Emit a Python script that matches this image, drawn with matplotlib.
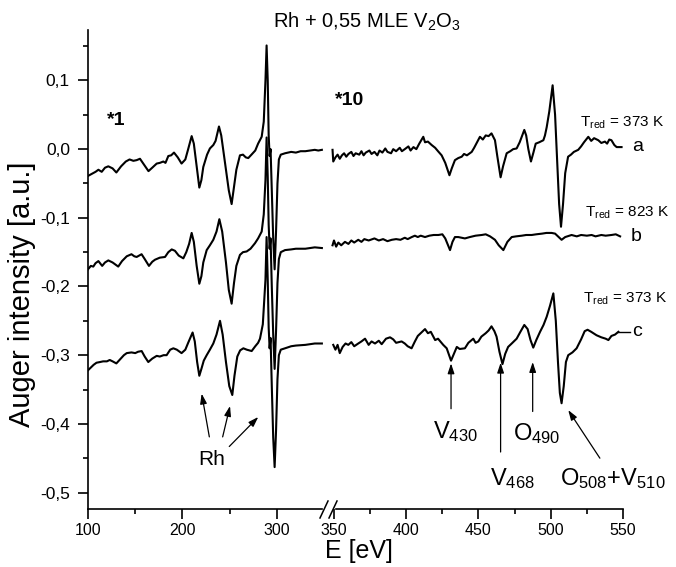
import matplotlib
matplotlib.use("Agg")
import matplotlib.pyplot as plt
from matplotlib.lines import Line2D
from matplotlib.ticker import FixedLocator, FuncFormatter

plt.rcParams['font.family'] = ['Liberation Sans', 'DejaVu Sans']
plt.rcParams['mathtext.fontset'] = 'custom'
plt.rcParams['mathtext.rm'] = 'Liberation Sans'
plt.rcParams['mathtext.it'] = 'Liberation Sans'
plt.rcParams['mathtext.bf'] = 'Liberation Sans:bold'

# ---------------- data: left part (*1), E in eV ----------------
E_left_a = [100, 104, 108, 111, 114.5, 118, 121.5, 126, 130, 135, 140, 144, 148, 151.5, 155, 159, 164, 168,
            172.7, 176, 179.7, 182, 185, 188, 191, 195, 199, 203, 206, 209.7, 212, 215, 217.8, 220, 222, 226,
            229, 232.6, 235, 238.6, 241, 245, 249, 252, 254.5, 257, 260.8, 264, 267, 269.6, 273, 277, 280,
            283.8, 286, 287.8, 289, 290.2, 291.2, 292.2, 293.2, 294.5, 296, 297.5, 299, 300.5, 302, 304,
            308.5, 315, 320, 325, 330, 335, 340, 343.7, 347.5]
I_left_a = [-0.039, -0.036, -0.033, -0.030, -0.033, -0.027, -0.025, -0.028, -0.034, -0.025, -0.018, -0.015,
            -0.017, -0.016, -0.014, -0.022, -0.032, -0.027, -0.021, -0.020, -0.018, -0.020, -0.010, -0.009,
            -0.005, -0.012, -0.021, -0.015, 0.000, 0.019, 0.008, -0.025, -0.056, -0.045, -0.026, -0.008,
            0.001, 0.006, 0.012, 0.033, 0.020, -0.020, -0.060, -0.080, -0.055, -0.030, -0.009, -0.008,
            -0.012, -0.013, -0.008, -0.002, 0.008, 0.018, 0.040, 0.100, 0.151, 0.100, 0.020, -0.010, 0.000,
            -0.060, -0.130, -0.175, -0.120, -0.050, -0.015, -0.008, -0.006, -0.004, -0.005, -0.003, -0.003,
            -0.002, -0.001, -0.002, -0.001]

E_left_b = [100, 103, 105.6, 108, 111, 115, 118, 121.5, 126, 132, 136, 141, 146, 149, 151.5, 156.7, 160,
            164.5, 168, 170.9, 176, 181.5, 185, 188.6, 192, 196, 200.9, 204, 207, 209.7, 212, 215, 217.8,
            220, 222, 225.6, 229, 232.6, 236, 239, 242, 246, 249, 252, 254.5, 257, 260.8, 264, 267.9, 272,
            276.7, 280, 283.8, 286, 287.8, 289, 290.2, 291.2, 292.2, 293.2, 294.5, 296, 297.5, 299, 300.5,
            302, 304, 308.5, 315, 320, 330, 340, 347.5]
I_left_b = [-0.175, -0.170, -0.171, -0.166, -0.163, -0.170, -0.165, -0.162, -0.165, -0.171, -0.163, -0.156,
            -0.153, -0.156, -0.157, -0.153, -0.160, -0.170, -0.164, -0.161, -0.158, -0.157, -0.150, -0.146,
            -0.148, -0.155, -0.159, -0.150, -0.138, -0.122, -0.135, -0.170, -0.196, -0.185, -0.165, -0.147,
            -0.140, -0.132, -0.120, -0.102, -0.120, -0.165, -0.205, -0.225, -0.195, -0.170, -0.154, -0.150,
            -0.149, -0.145, -0.137, -0.130, -0.120, -0.095, -0.045, 0.017, -0.040, -0.110, -0.145, -0.130,
            -0.200, -0.270, -0.320, -0.265, -0.195, -0.160, -0.150, -0.147, -0.146, -0.145, -0.145, -0.143,
            -0.144]

E_left_c = [100, 103, 106, 109, 112.7, 116, 120, 123, 126, 130, 134, 138, 141, 146, 150, 153, 156.8, 160,
            163.8, 168, 172.7, 176, 180, 183.2, 187, 190.3, 194, 199, 203, 206, 210.7, 213, 215.5, 217.8,
            220, 222.5, 225.6, 229, 232.6, 236, 239.7, 242.5, 246, 249.5, 252.7, 255, 258, 261, 264.4, 268,
            273.2, 277, 280, 282, 285, 287.8, 289, 290.2, 291.2, 292.2, 293.2, 294.5, 296, 297.5, 299, 300.5,
            302, 304, 308.5, 315, 320, 330, 340, 347.5]
I_left_c = [-0.322, -0.318, -0.314, -0.311, -0.310, -0.309, -0.309, -0.307, -0.309, -0.312, -0.306, -0.300,
            -0.297, -0.296, -0.297, -0.295, -0.294, -0.302, -0.310, -0.305, -0.301, -0.302, -0.300, -0.300,
            -0.292, -0.290, -0.292, -0.297, -0.292, -0.282, -0.267, -0.280, -0.310, -0.330, -0.320, -0.308,
            -0.300, -0.292, -0.283, -0.270, -0.250, -0.270, -0.310, -0.345, -0.358, -0.330, -0.302, -0.293,
            -0.290, -0.292, -0.294, -0.287, -0.282, -0.276, -0.255, -0.190, -0.128, -0.190, -0.260, -0.290,
            -0.275, -0.345, -0.420, -0.463, -0.410, -0.335, -0.300, -0.292, -0.290, -0.287, -0.286, -0.285,
            -0.283, -0.283]

# ---------------- data: right part (*10) ----------------
E_right_a = [349, 349.5, 351, 352.5, 354, 355.5, 357, 358.5, 360, 362, 363.5, 365, 367.5, 369, 370.5, 372,
             374.5, 376, 378, 380, 381.5, 383.5, 385.5, 387, 389.5, 391, 393, 395.5, 397, 399, 401.5, 403,
             405, 407, 409, 411.8, 413, 415, 417.6, 420, 422,
             424.5, 427, 429.9, 431.5, 433.7, 436, 438.4, 440, 442, 445.3, 447, 449, 451, 453, 455, 457, 459,
             461.4, 463, 465.3, 467, 469.5, 472, 474, 476.4, 478.5, 481.7, 483, 484.5, 486.3, 488, 489.6, 492,
             494.9, 496, 497.2, 499, 501.3, 503, 504.5, 505.8, 507.1, 508.5, 510, 512, 514, 516, 519, 521,
             523, 526, 528, 530, 532.9, 535, 537.5, 539, 540.5, 542, 544, 545.6, 549]
I_right_a = [-0.001, -0.018, -0.012, -0.008, -0.014, -0.009, -0.006, -0.011, -0.007, -0.004, -0.010, -0.006,
             -0.008, -0.003, -0.009, -0.005, -0.002, -0.007, -0.004, -0.009, -0.002, -0.005, 0.001, -0.004,
             -0.006, 0.000, -0.003, 0.002, -0.003, 0.000, 0.004, -0.002, 0.003, 0.000, 0.008,
             0.018, 0.010, 0.011, 0.006, 0.002,
             -0.003, -0.009, -0.020, -0.038, -0.028, -0.016, -0.013, -0.011, -0.007, -0.009, -0.004, 0.002,
             0.010, 0.018, 0.014, 0.020, 0.019, 0.023, 0.013, -0.010, -0.041, -0.025, -0.006, -0.003, 0.000,
             0.001, 0.010, 0.028, 0.020, 0.000, -0.018, -0.005, 0.008, 0.010, 0.013, 0.020, 0.032, 0.055,
             0.093, 0.050, -0.020, -0.080, -0.113, -0.080, -0.035, -0.011, -0.008, -0.004, -0.001, 0.004,
             0.010, 0.018, 0.012, 0.016, 0.013, 0.009, 0.011, 0.008, 0.014, 0.013, 0.006, 0.003, 0.003]

E_right_b = [349, 350, 351.5, 353, 355, 357.6, 360, 362, 364, 366.8, 369, 371, 374, 378, 381, 384, 387, 390,
             393, 396, 399, 401, 403.8, 406, 408, 410, 413, 416, 419, 422.2, 425, 427, 430.3, 432, 433.7, 436,
             440.6, 444, 448, 452.2, 455, 458, 461.4, 464, 467.2, 470, 473, 476, 480, 483, 486.8, 490, 494,
             497, 500.6, 503, 505, 507.5, 510, 514.4, 518, 521, 525, 528.3, 531, 535, 538, 542, 545, 548]
I_right_b = [-0.140, -0.133, -0.142, -0.136, -0.140, -0.135, -0.138, -0.133, -0.136, -0.132, -0.135, -0.131,
             -0.133, -0.130, -0.133, -0.131, -0.134, -0.132, -0.131, -0.132, -0.129, -0.131, -0.128, -0.126,
             -0.128, -0.126, -0.128, -0.126, -0.125, -0.125, -0.124, -0.130, -0.147, -0.135, -0.128, -0.128,
             -0.130, -0.128, -0.126, -0.125, -0.124, -0.127, -0.132, -0.140, -0.147, -0.135, -0.128, -0.127,
             -0.126, -0.125, -0.125, -0.124, -0.123, -0.122, -0.122, -0.123, -0.127, -0.132, -0.128, -0.125,
             -0.127, -0.125, -0.126, -0.125, -0.127, -0.125, -0.126, -0.125, -0.124, -0.127]

E_right_c = [349.5, 351, 352.5, 354, 356, 358, 359.9, 362, 364, 366.8, 369, 371.5, 374, 376, 378.4, 381, 383,
             386, 388.8, 391, 393, 396.8, 399, 401, 403.7, 406, 408, 411, 413, 415, 417, 420, 422, 425.6, 428,
             431, 433, 435, 437, 440.6, 443, 446.4, 448, 449.9, 452, 455, 457, 459, 461, 462.5, 464.5, 466.6,
             468.5, 470.5, 473, 476.4, 479, 481.7, 484, 486, 487.9, 490, 492.6, 495, 497.2, 499.5, 501.8,
             503.5, 505, 506.3, 507.5, 509, 510.5, 512.1, 515, 517.9, 521, 523.5, 525.5, 528, 531.7, 535, 538,
             539.9, 542, 544.5, 546.8]
I_right_c = [-0.285, -0.292, -0.285, -0.297, -0.288, -0.283, -0.285, -0.281, -0.287, -0.283, -0.280, -0.276,
             -0.285, -0.280, -0.283, -0.279, -0.284, -0.276, -0.274, -0.277, -0.282, -0.280, -0.283, -0.287,
             -0.290, -0.280, -0.272, -0.266, -0.262, -0.268, -0.266, -0.278, -0.276, -0.285, -0.290, -0.308,
             -0.298, -0.288, -0.291, -0.290, -0.282, -0.276, -0.282, -0.280, -0.273, -0.268, -0.264, -0.258,
             -0.265, -0.273, -0.295, -0.313, -0.298, -0.288, -0.283, -0.276, -0.266, -0.256, -0.262, -0.278,
             -0.289, -0.278, -0.266, -0.256, -0.244, -0.228, -0.210, -0.250, -0.310, -0.355, -0.370, -0.345,
             -0.310, -0.300, -0.296, -0.290, -0.277, -0.265, -0.263, -0.266, -0.271, -0.274, -0.276, -0.278,
             -0.272, -0.270, -0.266]

curve_names = ['a', 'b', 'c']
temps = ['373 K', '823 K', '373 K']
yticks = [-0.5, -0.4, -0.3, -0.2, -0.1, 0.0, 0.1]
left_xticks = [100, 200, 300]
right_xticks = [350, 400, 450, 500, 550]

# ---------------- figure ----------------
W, H = 676, 567
fig = plt.figure(figsize=(W / 100, H / 100), dpi=100)

def fx(px):
    return px / W

def fy(py):
    return 1 - py / H

ax_left_px, ax_mid_l, ax_mid_r, ax_right_px = 88, 326.6, 328.2, 623
ax_top, ax_bot = 30, 509
axL = fig.add_axes([fx(ax_left_px), fy(ax_bot), (ax_mid_l - ax_left_px) / W, (ax_bot - ax_top) / H])
axR = fig.add_axes([fx(ax_mid_r), fy(ax_bot), (ax_right_px - ax_mid_r) / W, (ax_bot - ax_top) / H])

ylim = (-0.524, 0.1735)
axL.set_xlim(100, 352.5)
axR.set_xlim(346, 550)
for ax in (axL, axR):
    ax.set_ylim(*ylim)
    ax.patch.set_visible(False)
    ax.spines['top'].set_visible(False)
    ax.spines['right'].set_visible(False)

lw = 1.5
for E, I in ((E_left_a, I_left_a), (E_left_b, I_left_b), (E_left_c, I_left_c)):
    axL.plot(E, I, color='black', lw=lw, solid_joinstyle='round')
for E, I in ((E_right_a, I_right_a), (E_right_b, I_right_b), (E_right_c, I_right_c)):
    axR.plot(E, I, color='black', lw=lw, solid_joinstyle='round', clip_on=False)

# spines
for ax in (axL, axR):
    ax.spines['bottom'].set_linewidth(1.2)
axL.spines['left'].set_linewidth(1.2)
axL.spines['bottom'].set_bounds(100, 347.6)
axR.spines['bottom'].set_bounds(351.5, 550)
axR.spines['left'].set_visible(False)
axR.tick_params(axis='y', left=False, labelleft=False)

fmt = FuncFormatter(lambda v, p: ('%.1f' % v).replace('.', ',').replace('-0,0', '0,0'))
axL.yaxis.set_major_locator(FixedLocator(yticks))
axL.yaxis.set_minor_locator(FixedLocator([-0.45, -0.35, -0.25, -0.15, -0.05, 0.05, 0.15]))
axL.yaxis.set_major_formatter(fmt)

axL.xaxis.set_major_locator(FixedLocator(left_xticks))
axL.xaxis.set_minor_locator(FixedLocator([150, 250]))
axR.xaxis.set_major_locator(FixedLocator(right_xticks))
axR.xaxis.set_minor_locator(FixedLocator([375, 425, 475, 525]))

for ax in (axL, axR):
    ax.tick_params(axis='both', which='major', direction='out', length=7, width=1.2, labelsize=11.5, pad=3)
    ax.tick_params(axis='both', which='minor', direction='out', length=3.5, width=1.2)
axL.tick_params(axis='y', which='major', labelsize=12.5, pad=6)

# break marks
for x0 in (320, 329):
    fig.add_artist(Line2D([fx(x0), fx(x0 + 8)], [fy(518), fy(501)], color='black', lw=1.1))

# texts
fig.text(fx(367), fy(28), r'Rh + 0,55 MLE V$_2$O$_3$', ha='center', va='baseline', fontsize=14.5)
fig.text(fx(22), fy(294), 'Auger intensity [a.u.]', rotation=90, ha='center', va='center', fontsize=21)
fig.text(fx(359), fy(558), 'E [eV]', ha='center', va='baseline', fontsize=18)

axL.text(120, 0.041, '*1', fontsize=14, fontweight='bold', ha='left', va='center')
axR.text(351.0, 0.071, '*10', fontsize=14, fontweight='bold', ha='left', va='center')

t_pos = [(520.2, 0.038), (523.7, -0.093), (522.3, -0.218)]
lab_pos = [(556.0, 0.004), (555.0, -0.127), (556.5, -0.265)]
for (tx, ty), (lx, ly), name, tmp in zip(t_pos, lab_pos, curve_names, temps):
    axR.text(tx, ty, r'T$_{\mathrm{red}}$ = ' + tmp, fontsize=11, ha='left', va='center', clip_on=False)
    axR.text(lx, ly, name, fontsize=14, ha='left', va='center', clip_on=False)
axR.plot([546.8, 554.5], [-0.266, -0.266], color='black', lw=1.0, clip_on=False)

# Rh arrows
arrow_kw = dict(arrowstyle='-|>,head_length=0.6,head_width=0.2', color='black', lw=0.9, shrinkA=0, shrinkB=0)
for (x1, y1), (x2, y2) in (((228.4, -0.419), (220.3, -0.356)),
                           ((242.5, -0.419), (250.3, -0.374)),
                           ((249.5, -0.433), (280.2, -0.390))):
    axL.annotate('', xy=(x2, y2), xytext=(x1, y1), arrowprops=arrow_kw)
axL.text(231.2, -0.46, 'Rh', fontsize=15, ha='center', va='baseline')

# right arrows
for (x1, y1), (x2, y2) in (((431.0, -0.378), (431.0, -0.312)),
                           ((465.3, -0.441), (465.3, -0.311)),
                           ((487.5, -0.382), (487.5, -0.310)),
                           ((534.0, -0.450), (512.1, -0.380))):
    axR.annotate('', xy=(x2, y2), xytext=(x1, y1), arrowprops=arrow_kw)
axR.text(418.5, -0.421, r'V$_{430}$', fontsize=17, ha='left', va='baseline')
axR.text(458.0, -0.489, r'V$_{468}$', fontsize=17, ha='left', va='baseline')
axR.text(473.9, -0.424, r'O$_{490}$', fontsize=17, ha='left', va='baseline')
axR.text(506.4, -0.489, r'O$_{508}$+V$_{510}$', fontsize=17, ha='left', va='baseline', clip_on=False)

fig.savefig('out.png', dpi=100)
